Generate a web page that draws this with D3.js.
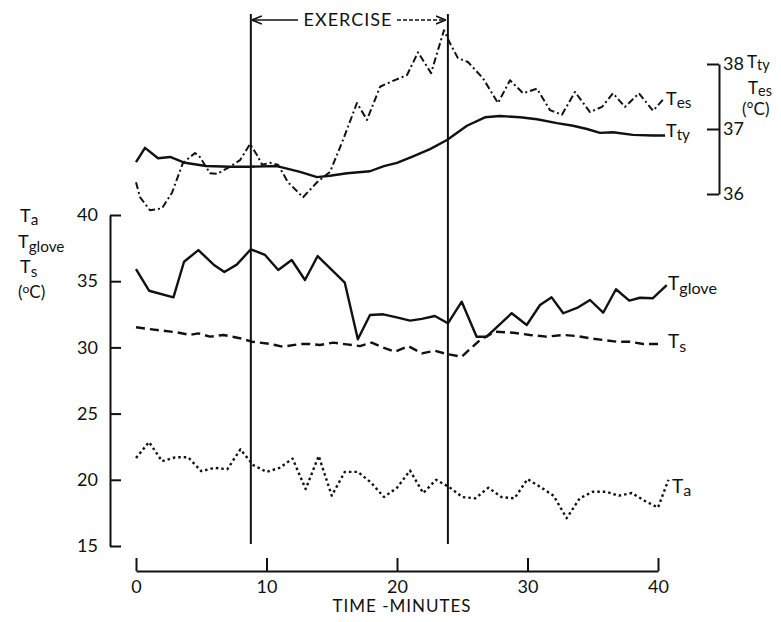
<!DOCTYPE html>
<html>
<head>
<meta charset="utf-8">
<script src="https://cdn.jsdelivr.net/npm/d3@7"></script>
<style>
  html, body { margin: 0; padding: 0; background: #fff; }
  svg { display: block; }
  text { font-family: Lato, "DejaVu Sans", sans-serif; fill: #111; }
</style>
</head>
<body>
<svg id="chart" width="781" height="622"></svg>
<script>
// ---------------- DATA ----------------
const xTicks = [0, 10, 20, 30, 40];
const leftTicks = [15, 20, 25, 30, 35, 40];
const rightTicks = [36, 37, 38];
const exerciseStart = 8.8;
const exerciseEnd = 23.9;

// Tes (oesophageal), right scale, dash-dot
const tesMinutes = [0,0.31,1.07,1.99,2.76,3.6,4.52,4.9,5.67,6.21,7.2,7.97,8.74,9.27,9.66,10.27,10.88,11.65,12.8,13.87,14.87,15.86,16.93,17.7,18.7,19.69,20.77,21.61,22.61,23.6,24.06,24.67,25.44,26.59,27.74,28.66,29.66,30.73,31.72,32.64,33.64,34.79,35.71,36.55,37.47,38.54,39.62,40.38];
const tesValues = [36.18,35.95,35.75,35.78,36.02,36.48,36.63,36.57,36.32,36.31,36.42,36.52,36.77,36.6,36.45,36.48,36.45,36.18,35.95,36.18,36.34,36.83,37.4,37.14,37.65,37.74,37.83,38.18,37.86,38.52,38.32,38.09,38.03,37.78,37.4,37.75,37.55,37.62,37.29,37.22,37.57,37.26,37.34,37.55,37.34,37.55,37.28,37.45];

// Tty (tympanic), right scale, solid
const ttyMinutes = [0,0.69,1.69,2.61,3.75,5.36,7.2,8.74,10.8,12.57,13.87,14.87,16.17,17.93,19.0,20.0,21.23,22.53,23.83,25.36,26.74,27.89,29.43,30.73,32.26,33.49,34.56,35.56,36.55,38.08,39.62,40.54];
const ttyValues = [36.49,36.71,36.55,36.57,36.48,36.43,36.42,36.42,36.43,36.34,36.26,36.28,36.32,36.35,36.43,36.48,36.58,36.69,36.83,37.05,37.18,37.2,37.18,37.15,37.09,37.05,37.0,36.94,36.95,36.91,36.9,36.9];

// Tglove, left scale, solid
const gloveMinutes = [0,1.0,2.87,3.68,4.78,5.95,6.77,7.72,8.8,9.89,10.9,11.93,12.95,13.92,15.0,16.0,17.0,17.93,18.95,19.98,21.0,21.9,22.9,23.9,24.96,26.1,26.87,28.79,29.94,30.96,31.85,32.74,33.89,34.79,35.8,36.78,37.8,38.62,39.59,40.67];
const gloveValues = [35.92,34.28,33.78,36.47,37.35,36.25,35.7,36.25,37.41,36.98,35.85,36.6,35.09,36.9,35.85,34.89,30.61,32.45,32.5,32.27,32.02,32.15,32.37,31.82,33.45,30.81,30.81,32.58,31.69,33.2,33.78,32.58,33.03,33.58,32.62,34.39,33.53,33.75,33.71,34.71];

// Ts (skin), left scale, dashed
const tsMinutes = [0,0.94,2.09,3.12,4.14,4.77,5.67,6.7,7.97,8.9,10.27,11.29,12.57,13.33,14.1,15.12,16.15,17.16,18.06,18.95,19.85,20.87,21.9,22.91,23.81,24.96,26.36,27.51,28.91,30.19,31.47,32.74,33.77,34.79,35.8,36.83,37.85,38.87,40.15];
const tsValues = [31.52,31.39,31.26,31.14,30.94,31.06,30.81,30.94,30.69,30.43,30.26,30.05,30.26,30.26,30.18,30.36,30.23,30.1,30.36,29.98,29.68,30.1,29.55,29.75,29.5,29.3,30.56,31.19,31.11,30.94,30.81,30.94,30.86,30.69,30.56,30.43,30.43,30.26,30.26];

// Ta (ambient), left scale, dotted
const taMinutes = [0,1,2,3,4,5,6,7,8,9,10,11,12,13,14,15,16,17,18,19,20,21,22,23,24,25,26,27,28,29,30,31,32,33,34,35,36,37,38,39,40,40.8];
const taValues = [21.65,22.85,21.4,21.7,21.7,20.65,20.9,20.8,22.3,21.1,20.6,20.9,21.6,19.3,21.8,18.8,20.6,20.6,19.8,18.7,19.4,20.7,19.0,20.0,19.45,18.7,18.6,19.4,18.7,18.6,20.05,19.45,18.8,17.1,18.6,19.1,19.1,18.8,19.0,18.4,17.9,20.0];

// ---------------- DRAW ----------------
const svg = d3.select("#chart");
const x = d3.scaleLinear().domain([0, 40]).range([136, 658]);
const yL = d3.scaleLinear().domain([15, 40]).range([546, 215]);
const yR = d3.scaleLinear().domain([36, 38]).range([194, 64]);

const FS = 18;

// left axis
const gL = svg.append("g").attr("transform", "translate(110,0)")
  .call(d3.axisLeft(yL).tickValues(leftTicks).tickFormat(d3.format("d"))
    .tickSize(-11).tickSizeOuter(0).tickPadding(12));
// bottom axis
const gB = svg.append("g").attr("transform", "translate(0,571)")
  .call(d3.axisBottom(x).tickValues(xTicks).tickFormat(d3.format("d"))
    .tickSize(-13).tickSizeOuter(0).tickPadding(9));
// right axis
const gR = svg.append("g").attr("transform", "translate(719,0)")
  .call(d3.axisRight(yR).tickValues(rightTicks).tickFormat(d3.format("d"))
    .tickSize(-12).tickSizeOuter(0).tickPadding(4));

[gL, gB, gR].forEach(g => {
  g.selectAll("path.domain").attr("stroke", "#111").attr("stroke-width", 2);
  g.selectAll(".tick line").attr("stroke", "#111").attr("stroke-width", 2);
  g.selectAll(".tick text").attr("font-size", FS).attr("font-family", "Lato, sans-serif").attr("fill", "#111");
});

// exercise lines
[exerciseStart, exerciseEnd].forEach(t => {
  svg.append("line")
    .attr("x1", x(t)).attr("x2", x(t))
    .attr("y1", 14).attr("y2", 544)
    .attr("stroke", "#111").attr("stroke-width", 2);
});

// exercise arrow
const defs = svg.append("defs");
defs.append("marker").attr("id", "ah").attr("viewBox", "0 0 10 10")
  .attr("refX", 10).attr("refY", 5).attr("markerWidth", 10).attr("markerHeight", 10)
  .attr("markerUnits", "userSpaceOnUse").attr("orient", "auto-start-reverse")
  .append("path").attr("d", "M0,1 L10,5 L0,9").attr("fill", "none").attr("stroke", "#111").attr("stroke-width", 1.6);

const arrowY = 20;
svg.append("line").attr("x1", x(exerciseStart) + 1).attr("x2", 298)
  .attr("y1", arrowY).attr("y2", arrowY).attr("stroke", "#111").attr("stroke-width", 1.6)
  .attr("marker-start", "url(#ah)");
svg.append("line").attr("x1", 397).attr("x2", x(exerciseEnd) - 2)
  .attr("y1", arrowY).attr("y2", arrowY).attr("stroke", "#111").attr("stroke-width", 1.6)
  .attr("stroke-dasharray", "4,2")
  .attr("marker-end", "url(#ah)");
svg.append("text").attr("x", 348).attr("y", arrowY + 6).attr("text-anchor", "middle")
  .attr("font-size", 18).attr("letter-spacing", 1).text("EXERCISE");

// series
function series(mins, vals, yScale, dash, width) {
  const pts = mins.map((m, i) => [m, vals[i]]);
  const line = d3.line().x(d => x(d[0])).y(d => yScale(d[1]));
  svg.append("path").datum(pts).attr("d", line)
    .attr("fill", "none").attr("stroke", "#111").attr("stroke-width", width)
    .attr("stroke-linejoin", "round")
    .attr("stroke-dasharray", dash);
}
series(tesMinutes, tesValues, yR, "7,3,2,3", 2);
series(ttyMinutes, ttyValues, yR, null, 2.4);
series(gloveMinutes, gloveValues, yL, null, 2.4);
series(tsMinutes, tsValues, yL, "9,5", 2.4);
series(taMinutes, taValues, yL, "2.5,3", 2.4);

// labels with subscript
function tlabel(px, py, main, sub, size, subDy) {
  const t = svg.append("text").attr("x", px).attr("y", py).attr("font-size", size);
  t.append("tspan").text(main);
  t.append("tspan").attr("dy", subDy).attr("font-size", size * 0.85).text(sub);
  return t;
}
// line-end labels
tlabel(666, 105, "T", "es", 18, 3);
tlabel(666, 137, "T", "ty", 18, 3);
tlabel(668, 290, "T", "glove", 19, 4);
tlabel(668, 348, "T", "s", 19, 4);
tlabel(672, 493, "T", "a", 19, 3);

// left axis title
tlabel(20, 222, "T", "a", 18, 3);
tlabel(18, 248, "T", "glove", 18, 4);
tlabel(20, 273, "T", "s", 18, 4);
const oc = svg.append("text").attr("x", 18).attr("y", 298).attr("font-size", 17);
oc.append("tspan").text("(");
oc.append("tspan").attr("dy", -5).attr("font-size", 12).text("o");
oc.append("tspan").attr("dy", 5).text("C)");

// right axis title
tlabel(747, 68, "T", "ty", 17, 2);
tlabel(748, 94, "T", "es", 17, 2);
svg.append("text").attr("x", 742).attr("y", 115).attr("font-size", 17).text("(°C)");

// x axis title
svg.append("text").attr("x", 402).attr("y", 612).attr("text-anchor", "middle")
  .attr("font-size", 17).attr("letter-spacing", 1).text("TIME -MINUTES");
</script>
</body>
</html>
